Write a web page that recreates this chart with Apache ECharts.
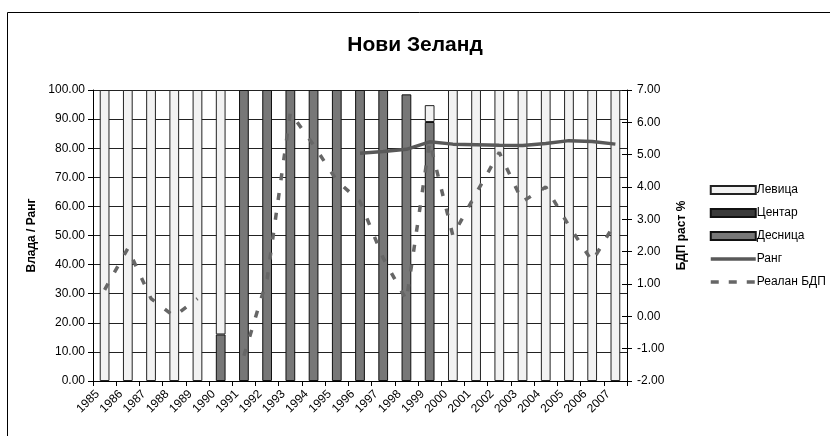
<!DOCTYPE html>
<html>
<head>
<meta charset="utf-8">
<script src="https://cdn.jsdelivr.net/npm/echarts@6/dist/echarts.min.js"></script>
<style>
  html, body { margin: 0; padding: 0; background: #fff; }
  #chart { width: 830px; height: 436px; }
</style>
</head>
<body>
<div id="chart"></div>
<script>
// године
var years = ['1985', '1986', '1987', '1988', '1989', '1990', '1991', '1992', '1993', '1994', '1995', '1996',
             '1997', '1998', '1999', '2000', '2001', '2002', '2003', '2004', '2005', '2006', '2007'];
// влада (удео у години)
var levica  = [100, 100, 100, 100, 100, 84, null, null, null, null, null, null,
               null, null, 5.8, 100, 100, 100, 100, 100, 100, 100, 100];
var centar  = [null, null, null, null, null, null, null, null, null, null, null, null,
               null, null, null, null, null, null, null, null, null, null, null];
var desnica = [null, null, null, null, null, 16, 100, 100, 100, 100, 100, 100,
               100, 98.5, 89, null, null, null, null, null, null, null, null];
// ранг (лева оса)
var rang = [null, null, null, null, null, null, null, null, null, null, null, 78.3,
            78.9, 79.6, 82.2, 81.4, 81.2, 81.0, 80.9, 81.6, 82.6, 82.3, 81.4];
// реалан БДП раст % (десна оса)
var bdp = [0.82, 2.1, 0.55, 0.0, 0.55, null, -1.22, 1.16, 6.3, 5.3, 4.2, 3.55,
           1.8, 0.5, 5.4, 2.5, 3.8, 5.07, 3.55, 4.0, 2.8, 1.7, 2.9];

var font = 'Liberation Sans, Arial, sans-serif';
var myChart = echarts.init(document.getElementById('chart'));

var option = {
  backgroundColor: '#fff',
  animation: false,
  textStyle: { fontFamily: font, color: '#000' },
  title: {
    text: 'Нови Зеланд',
    left: 'center',
    top: 30,
    textStyle: { fontFamily: font, fontSize: 21, fontWeight: 'bold', color: '#000' }
  },
  graphic: [{
    type: 'rect',
    left: 5, top: 10,
    shape: { width: 840, height: 450 },
    style: { fill: 'none', stroke: '#000', lineWidth: 1 },
    silent: true
  }],
  legend: {
    orient: 'vertical',
    left: 709,
    top: 184,
    padding: 0,
    itemWidth: 45,
    itemHeight: 8,
    itemGap: 11,
    textStyle: { fontFamily: font, fontSize: 12, color: '#000', padding: [0, 0, 0, -4] },
    data: [
      { name: 'Левица', icon: 'rect' },
      { name: 'Центар', icon: 'rect' },
      { name: 'Десница', icon: 'rect' },
      { name: 'Ранг', itemStyle: { opacity: 0 }, lineStyle: { width: 3.5 } },
      { name: 'Реалан БДП', itemStyle: { opacity: 0 }, lineStyle: { width: 3.5, type: [8, 10] } }
    ]
  },
  grid: { left: 93, right: 203, top: 90, bottom: 55 },
  xAxis: {
    type: 'category',
    data: years,
    boundaryGap: true,
    axisLine: { lineStyle: { color: '#000', width: 1 } },
    axisTick: { show: true, length: 5, lineStyle: { color: '#000' } },
    axisLabel: { rotate: 45, fontSize: 12, color: '#000', margin: 4, interval: 0, fontFamily: font,
                 padding: [0, 10, 0, 0] },
    splitLine: { show: false }
  },
  yAxis: [{
    type: 'value',
    min: 0, max: 100, interval: 10,
    name: 'Влада / Ранг',
    nameLocation: 'middle',
    nameRotate: 90,
    nameGap: 54,
    nameTextStyle: { fontFamily: font, fontSize: 12, fontWeight: 'bold', color: '#000' },
    axisLine: { show: true, lineStyle: { color: '#000' } },
    axisTick: { show: true, length: 5, lineStyle: { color: '#000' } },
    axisLabel: { fontSize: 12, color: '#000', margin: 8, fontFamily: font,
                 formatter: function (v) { return v.toFixed(2); } },
    splitLine: { show: true, lineStyle: { color: '#222', width: 1 } }
  }, {
    type: 'value',
    min: -2, max: 7, interval: 1,
    position: 'right',
    name: 'БДП раст %',
    nameLocation: 'middle',
    nameRotate: 90,
    nameGap: 46,
    nameTextStyle: { fontFamily: font, fontSize: 12, fontWeight: 'bold', color: '#000' },
    axisLine: { show: true, lineStyle: { color: '#000' } },
    axisTick: { show: true, length: 5, lineStyle: { color: '#000' } },
    axisLabel: { fontSize: 12, color: '#000', margin: 10, fontFamily: font,
                 formatter: function (v) { return v.toFixed(2); } },
    splitLine: { show: false }
  }, {
    // унутрашњи подеоци десне осе
    type: 'value',
    min: -2, max: 7, interval: 1,
    position: 'right',
    axisLine: { show: false },
    axisTick: { show: true, inside: true, length: 5, lineStyle: { color: '#000' } },
    axisLabel: { show: false },
    splitLine: { show: false }
  }],
  series: [{
    name: 'Десница',
    type: 'bar',
    stack: 'vlada',
    barWidth: '42%',
    data: desnica,
    itemStyle: { color: '#777777', borderColor: '#111', borderWidth: 1 }
  }, {
    name: 'Центар',
    type: 'bar',
    stack: 'vlada',
    barWidth: '42%',
    data: centar,
    itemStyle: { color: '#3a3a3a', borderColor: '#111', borderWidth: 1 }
  }, {
    name: 'Левица',
    type: 'bar',
    stack: 'vlada',
    barWidth: '42%',
    data: levica,
    itemStyle: { color: '#f2f2f2', borderColor: '#222', borderWidth: 1 }
  }, {
    name: 'Ранг',
    type: 'line',
    yAxisIndex: 0,
    data: rang,
    symbol: 'none',
    connectNulls: false,
    lineStyle: { color: '#595959', width: 3.5 },
    itemStyle: { color: '#595959' },
    z: 4
  }, {
    name: 'Реалан БДП',
    type: 'line',
    yAxisIndex: 1,
    data: bdp,
    symbol: 'none',
    connectNulls: false,
    lineStyle: { color: '#666', width: 3.5, type: [7, 13] },
    itemStyle: { color: '#666' },
    z: 3
  }]
};

myChart.setOption(option);
</script>
</body>
</html>
